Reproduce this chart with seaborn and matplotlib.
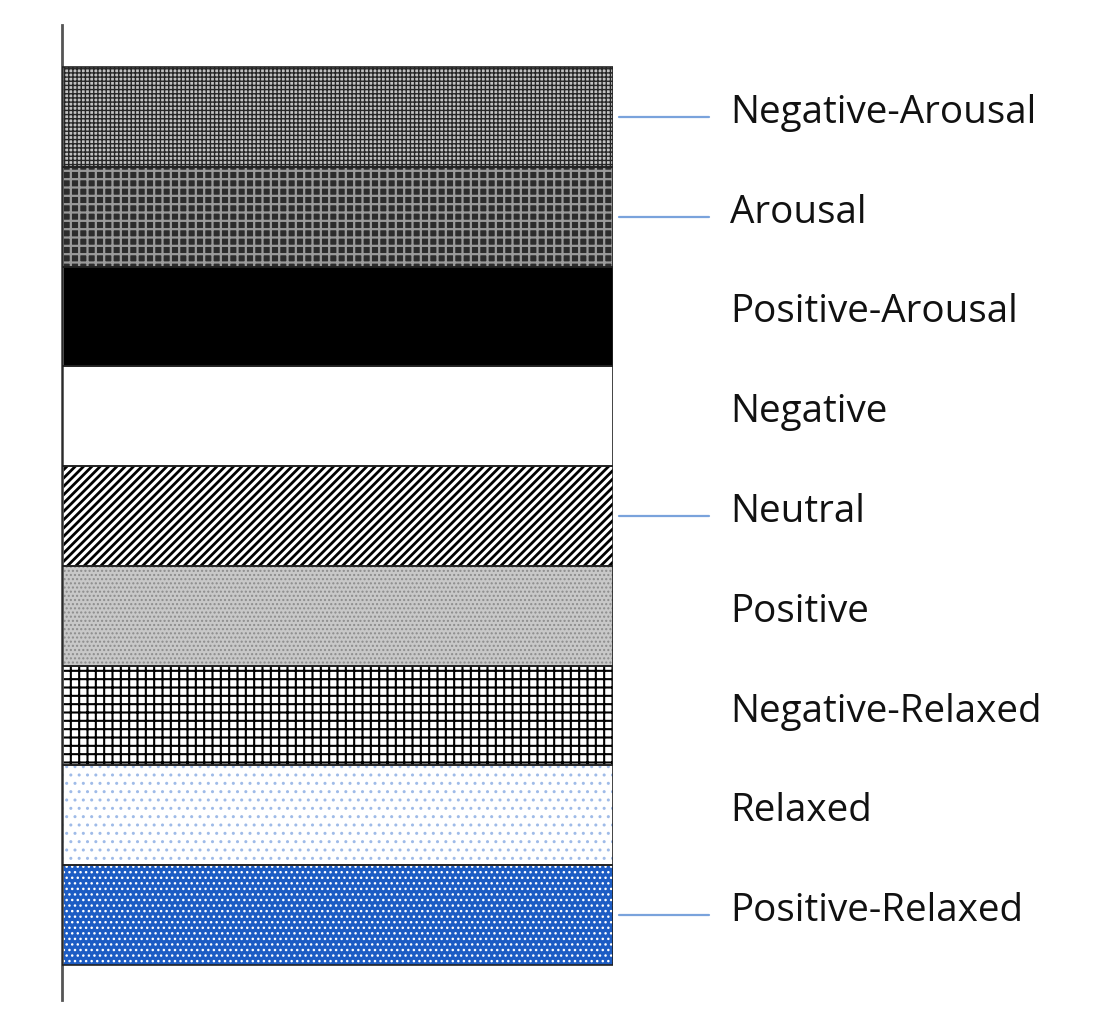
import matplotlib
matplotlib.use("Agg")
import matplotlib.pyplot as plt
from matplotlib.patches import Rectangle
import pandas as pd
import seaborn as sns

sns.set_style("white")
plt.rcParams['font.family'] = ['Open Sans', 'DejaVu Sans']

# segments, top to bottom (all equal size)
categories = ['Negative-Arousal', 'Arousal', 'Positive-Arousal', 'Negative',
              'Neutral', 'Positive', 'Negative-Relaxed', 'Relaxed', 'Positive-Relaxed']
values = [1, 1, 1, 1, 1, 1, 1, 1, 1]
has_leader = [True, True, False, False, True, False, False, False, True]

# fill, hatch pattern, hatch colour, hatch width per segment
faces = ['#c2c2c2', '#2c2c2c', '#000000', '#ffffff', '#ffffff',
         '#c8c8c8', '#ffffff', '#ffffff', '#1c5cc4']
hatches = ['++++', '++', '', '', '////', '....', '++', '..', '...']
hatch_cols = ['#262626', '#9a9a9a', '#000000', '#ffffff', '#000000',
              '#8c8c8c', '#000000', '#9fbbe8', '#ffffff']
hatch_lws = [1.0, 1.6, 1.0, 1.0, 2.0, 1.0, 1.5, 1.0, 1.0]

df = pd.DataFrame({'cat': categories, 'val': values})

fig = plt.figure(figsize=(11.16, 10.22), dpi=100)
ax = fig.add_axes([62 / 1116, 22 / 1022, 551 / 1116, 975 / 1022])

sns.barplot(data=df, x='val', y='cat', orient='h', width=1, ax=ax,
            color='white', saturation=1)

for p, fc, h, hc, hl in zip(ax.patches, faces, hatches, hatch_cols, hatch_lws):
    p.set_facecolor(fc)
    p.set_hatch(h)
    p.set_edgecolor(hc)
    p.set_linewidth(0)
    try:
        p.set_hatch_linewidth(hl)
    except AttributeError:
        p._hatch_linewidth = hl
    ax.add_patch(Rectangle(p.get_xy(), p.get_width(), p.get_height(),
                           fill=False, ec='#222222', lw=1.2, zorder=3))

ax.set_xlim(0, 1)
ax.set_ylim(8.85, -0.92)

for i, (lab, lead) in enumerate(zip(categories, has_leader)):
    if lead:
        ax.plot([1.01, 1.175], [i, i], color='#7aa3dc', lw=1.6, clip_on=False)
    ax.text(1.212, i - 0.04, lab, va='center', ha='left', fontsize=27.8,
            color='#111111', clip_on=False)

ax.set_xlabel('')
ax.set_ylabel('')
ax.set_xticks([])
ax.set_yticks([])
for s in ['top', 'right', 'bottom']:
    ax.spines[s].set_visible(False)
ax.spines['left'].set_color('#555555')
ax.spines['left'].set_linewidth(2)

fig.savefig('out.png', dpi=100, facecolor='white')
